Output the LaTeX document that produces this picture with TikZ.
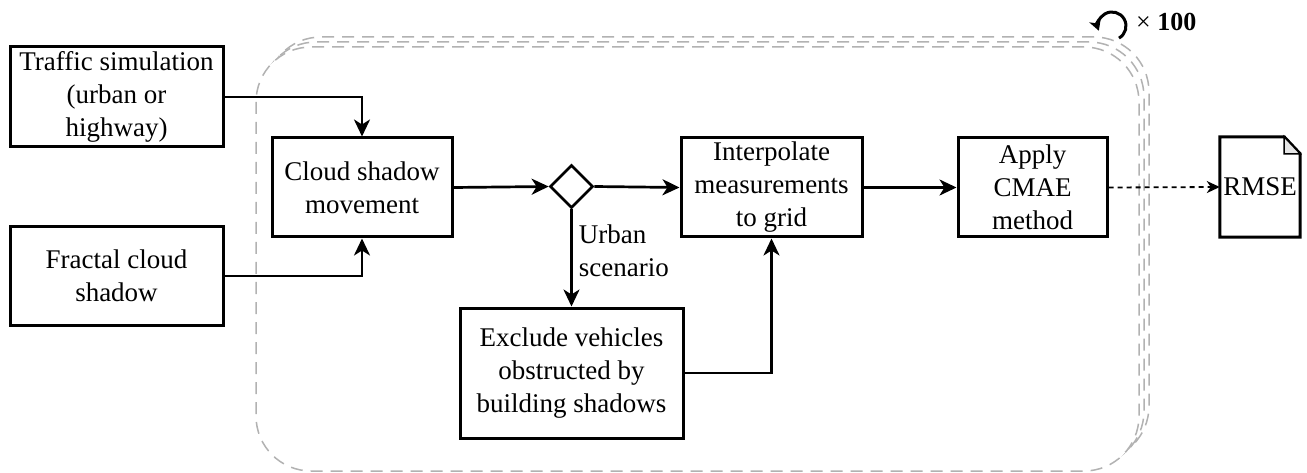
\documentclass[tikz,border=0pt]{standalone}
\usepackage{fontspec}
\setmainfont{Liberation Serif}
\usetikzlibrary{arrows.meta,shapes.geometric}
\begin{document}
\begin{tikzpicture}[x=1pt,y=1pt,
  box/.style={draw, line width=3pt, fill=white, inner sep=0pt, align=center, font=\fontsize{27}{33}\selectfont},
  conn/.style={line width=2.7pt, -{Stealth[length=17pt,width=16pt,inset=5pt]}},
  frame/.style={draw=black!30, line width=1.5pt, dash pattern=on 12pt off 8pt, rounded corners=55pt, fill=white},
  lbl/.style={font=\fontsize{27}{33}\selectfont}]
\useasboundingbox (0,0) rectangle (1307,-473);
% stacked dashed frames
\draw[frame] (266,-37) rectangle (1149,-461);
\draw[frame] (261,-42) rectangle (1144,-466);
\draw[frame] (256,-47) rectangle (1139,-471);
% nodes
\node[box, minimum width=213pt, minimum height=100pt] (traffic) at (116.5,-97) {Traffic simulation\\(urban or\\highway)};
\node[box, minimum width=213pt, minimum height=99pt] (fractal) at (116.5,-276) {Fractal cloud\\shadow};
\node[box, minimum width=180pt, minimum height=99pt] (cloud) at (362,-187.5) {Cloud shadow\\movement};
\node[draw, diamond, line width=2.7pt, fill=white, minimum width=43pt, minimum height=43pt, inner sep=0pt] (dec) at (571.5,-186.5) {};
\node[box, minimum width=181pt, minimum height=99pt] (interp) at (771.5,-187.5) {Interpolate\\measurements\\to grid};
\node[box, minimum width=223pt, minimum height=130pt] (excl) at (571.5,-373) {Exclude vehicles\\obstructed by\\building shadows};
\node[box, minimum width=149pt, minimum height=99pt] (apply) at (1032.5,-187.5) {Apply\\CMAE\\method};
\node[lbl, inner sep=0pt, minimum width=80pt, minimum height=100pt] (rmse) at (1260,-187) {RMSE};
\draw[line width=3pt, line join=miter] (rmse.north west) -- ([xshift=-16pt]rmse.north east) -- ([yshift=-17pt]rmse.north east) -- (rmse.south east) -- (rmse.south west) -- cycle;
\draw[line width=1.5pt, fill=black!10, line join=miter] ([xshift=-16pt]rmse.north east) -- ([xshift=-16pt,yshift=-17pt]rmse.north east) -- ([yshift=-17pt]rmse.north east) -- cycle;
% connectors
\draw[conn] (traffic.east) -| (cloud.north);
\draw[conn] (fractal.east) -| (cloud.south);
\draw[conn] (cloud.east) -- (dec.west);
\draw[conn] (dec.east) -- (interp.west);
\draw[conn] (dec.south) -- node[pos=0.43, anchor=west, align=left, inner sep=0pt, xshift=6pt, lbl] (urb) {Urban\\scenario} (excl.north);
\draw[conn] (excl.east) -| (interp.south);
\draw[conn] (interp.east) -- (apply.west);
\draw[line width=1.8pt, dash pattern=on 5pt off 4pt, -{Stealth[length=13pt,width=12pt,inset=4pt]}] (apply.east) -- (rmse.west);
% repeat symbol
\coordinate (loopstart) at (1119,-38.1);
\draw[line width=3pt, -{Stealth[length=11pt,width=12pt,inset=3pt]}] (loopstart) arc[start angle=-60, end angle=200, radius=14];
\node[anchor=west, font=\fontsize{26}{30}\selectfont, inner sep=0pt] (times) at (1136,-22) {× \textbf{100}};
\end{tikzpicture}
\end{document}
